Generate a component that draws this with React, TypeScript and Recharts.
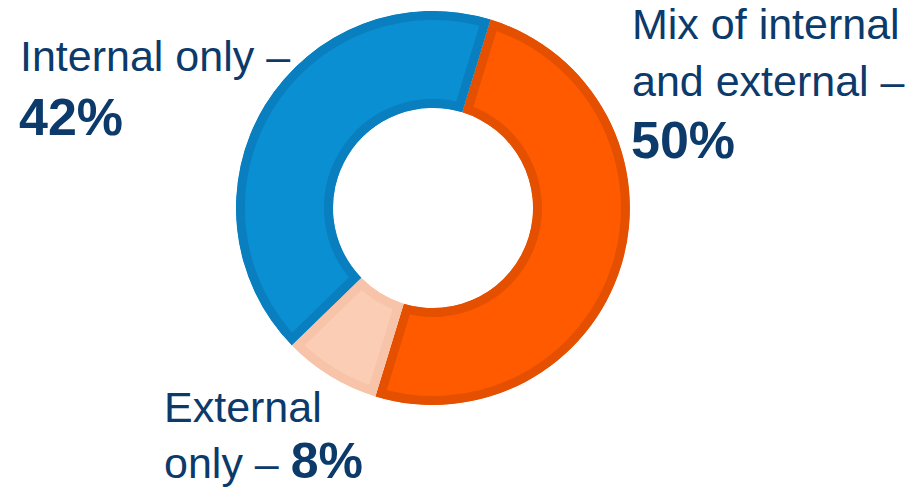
import React from 'react';
import { PieChart, Pie, Cell, Sector, Customized } from 'recharts';

const categories = ['Mix of internal and external', 'External only', 'Internal only'];
const shares = [50, 8, 42];

const FILLS = ['#ff5a00', '#fbcdb5', '#0a8fd3'];
const BORDERS = ['#e55000', '#f7c4aa', '#0a7fbf'];
const TEXT = '#0c3a6b';

const data = categories.map((name, i) => ({ name, value: shares[i] }));

const BorderedSector = (props: any) => {
  const id = `clip-sector-${props.index}`;
  return (
    <g>
      <defs>
        <clipPath id={id}>
          <Sector
            cx={props.cx}
            cy={props.cy}
            innerRadius={props.innerRadius}
            outerRadius={props.outerRadius}
            startAngle={props.startAngle}
            endAngle={props.endAngle}
          />
        </clipPath>
      </defs>
      <Sector
        cx={props.cx}
        cy={props.cy}
        innerRadius={props.innerRadius}
        outerRadius={props.outerRadius}
        startAngle={props.startAngle}
        endAngle={props.endAngle}
        fill={FILLS[props.index]}
        stroke={BORDERS[props.index]}
        strokeWidth={18}
        clipPath={`url(#${id})`}
      />
    </g>
  );
};

const Labels = () => {
  const font = '"Liberation Sans", Arial, sans-serif';
  return (
    <g fontFamily={font} fill={TEXT}>
      <text x={20} y={71} fontSize={43}>Internal only –</text>
      <text x={19} y={135} fontSize={52} fontWeight="bold">{shares[2]}%</text>
      <text x={632} y={39} fontSize={43}>Mix of internal</text>
      <text x={632} y={96} fontSize={43}>and external –</text>
      <text x={631} y={158} fontSize={52} fontWeight="bold">{shares[0]}%</text>
      <text x={164} y={422} fontSize={43}>External</text>
      <text x={164} y={478} fontSize={43}>
        only – <tspan fontSize={50} fontWeight="bold">{shares[1]}%</tspan>
      </text>
    </g>
  );
};

export default function App() {
  return (
    <div style={{ position: 'absolute', left: 0, top: 0 }}>
      <PieChart width={919} height={489} margin={{ top: 0, right: 0, bottom: 0, left: 0 }}>
        <Pie
          data={data}
          dataKey="value"
          nameKey="name"
          cx={433}
          cy={208}
          innerRadius={100}
          outerRadius={197}
          startAngle={73}
          endAngle={-287}
          stroke="none"
          isAnimationActive={false}
          shape={BorderedSector}
          inactiveShape={BorderedSector}
          activeShape={BorderedSector}
        >
          {data.map((d, i) => (
            <Cell key={d.name} fill={FILLS[i]} />
          ))}
        </Pie>
        <Customized component={Labels} />
      </PieChart>
    </div>
  );
}
